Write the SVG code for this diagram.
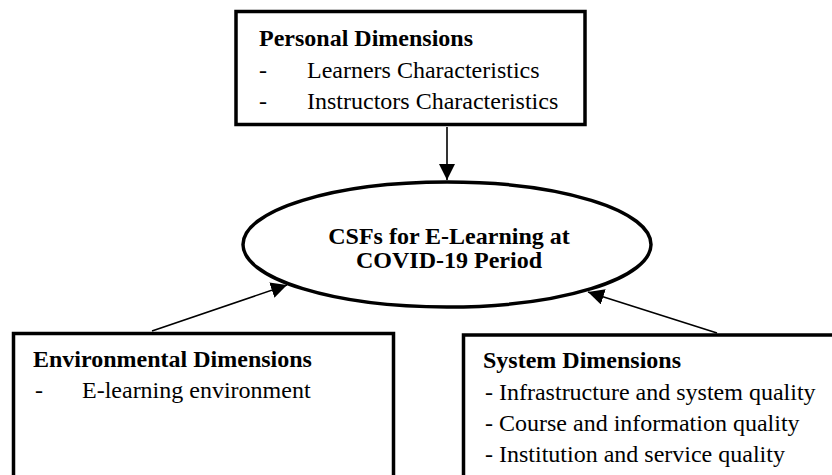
<svg xmlns="http://www.w3.org/2000/svg" width="832" height="475" viewBox="0 0 832 475">
<style>
.box{fill:#fff;stroke:#000;stroke-width:3.5}
.ell{fill:#fff;stroke:#000;stroke-width:3.5}
.h{font-family:"Liberation Serif","Times New Roman",serif;font-weight:bold;font-size:24px;fill:#000}
.t{font-family:"Liberation Serif","Times New Roman",serif;font-size:24px;fill:#000}
.c{stroke:#000;stroke-width:1.6;fill:none}
</style>
<defs>
<marker id="ah" markerUnits="userSpaceOnUse" markerWidth="18" markerHeight="16" refX="16" refY="8" orient="auto" viewBox="0 0 18 16">
<path d="M0,0 L16,8 L0,16 Z" fill="#000"/>
</marker>
</defs>
<g id="personal">
<rect class="box" x="236" y="11.5" width="349" height="113"/>
<text class="h" x="259" y="46">Personal Dimensions</text>
<text class="t" x="259" y="78">-</text>
<text class="t" x="307" y="78">Learners Characteristics</text>
<text class="t" x="259" y="109">-</text>
<text class="t" x="307" y="109">Instructors Characteristics</text>
</g>
<g id="csf">
<ellipse class="ell" cx="447" cy="244.5" rx="204" ry="62.5"/>
<text class="h" x="449" y="244" text-anchor="middle">CSFs for E-Learning at</text>
<text class="h" x="449" y="268" text-anchor="middle">COVID-19 Period</text>
</g>
<g id="environmental">
<rect class="box" x="13.5" y="333.5" width="380" height="150"/>
<text class="h" x="33" y="367">Environmental Dimensions</text>
<text class="t" x="35" y="398">-</text>
<text class="t" x="82" y="398">E-learning environment</text>
</g>
<g id="system">
<rect class="box" x="463.5" y="335" width="380" height="150"/>
<text class="h" x="483" y="368">System Dimensions</text>
<text class="t" x="485" y="400">-  Infrastructure and system quality</text>
<text class="t" x="485" y="431">-  Course and information quality</text>
<text class="t" x="485" y="462">-  Institution and service quality</text>
</g>
<g id="connectors">
<line class="c" x1="447" y1="127" x2="447" y2="180" marker-end="url(#ah)"/>
<line class="c" x1="152" y1="331" x2="287" y2="285" marker-end="url(#ah)"/>
<line class="c" x1="717" y1="333" x2="588" y2="292" marker-end="url(#ah)"/>
</g>
</svg>
